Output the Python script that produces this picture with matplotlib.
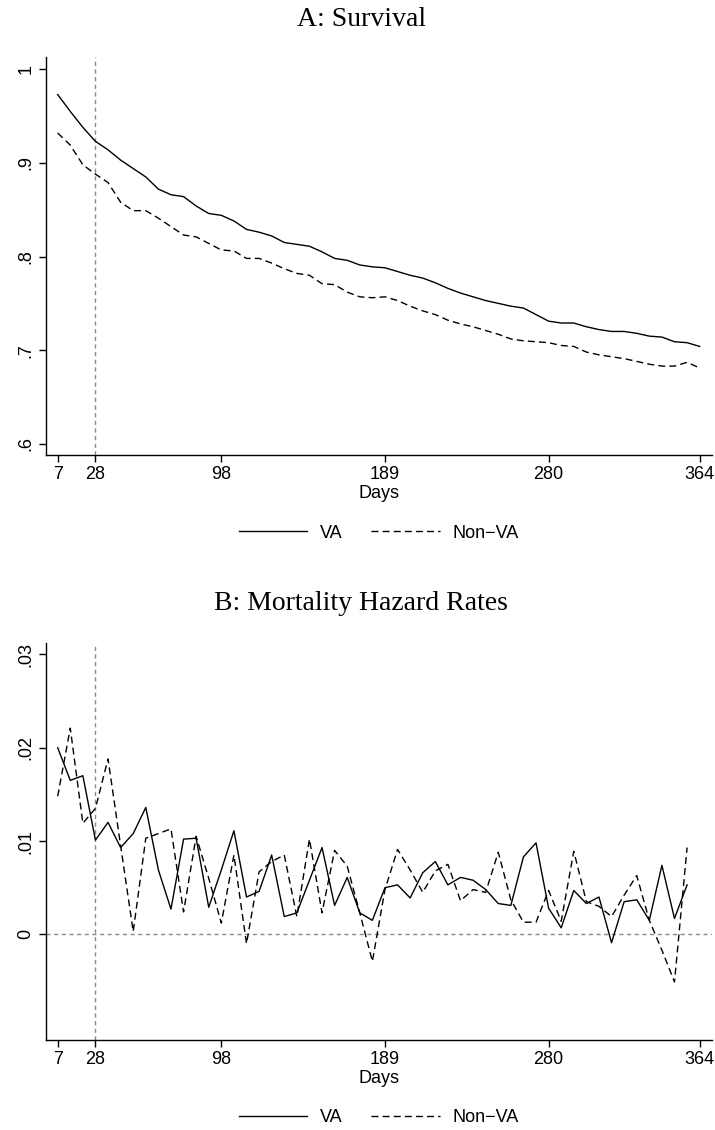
import numpy as np
import matplotlib
matplotlib.use("Agg")
from matplotlib import pyplot as plt

# weeks since admission (days)
days = [7, 14, 21, 28, 35, 42, 49, 56, 63, 70, 77, 84, 91, 98, 105, 112, 119, 126,
        133, 140, 147, 154, 161, 168, 175, 182, 189, 196, 203, 210, 217, 224, 231,
        238, 245, 252, 259, 266, 273, 280, 287, 294, 301, 308, 315, 322, 329, 336,
        343, 350, 357, 364]

# Panel A: survival
surv_va = [0.973, 0.955, 0.938, 0.923, 0.914, 0.903, 0.894, 0.885, 0.872, 0.866,
           0.864, 0.854, 0.846, 0.844, 0.838, 0.829, 0.826, 0.822, 0.815, 0.813,
           0.811, 0.805, 0.798, 0.796, 0.791, 0.789, 0.788, 0.784, 0.780, 0.777,
           0.772, 0.766, 0.761, 0.757, 0.753, 0.750, 0.747, 0.745, 0.738, 0.731,
           0.729, 0.729, 0.725, 0.722, 0.720, 0.720, 0.718, 0.715, 0.714, 0.709,
           0.708, 0.704]
surv_nonva = [0.932, 0.919, 0.898, 0.888, 0.879, 0.858, 0.849, 0.849, 0.841, 0.832,
              0.823, 0.821, 0.814, 0.807, 0.806, 0.798, 0.798, 0.793, 0.787, 0.782,
              0.780, 0.771, 0.770, 0.762, 0.757, 0.756, 0.757, 0.753, 0.747, 0.742,
              0.738, 0.732, 0.728, 0.725, 0.721, 0.717, 0.712, 0.710, 0.709, 0.708,
              0.705, 0.704, 0.698, 0.695, 0.693, 0.691, 0.688, 0.685, 0.683, 0.683,
              0.687, 0.681]

# Panel B: weekly mortality hazard (days 7..357)
haz_va = [0.0200, 0.0165, 0.0170, 0.0101, 0.0120, 0.0093, 0.0108, 0.0136, 0.0069,
          0.0027, 0.0102, 0.0103, 0.0029, 0.0069, 0.0111, 0.0040, 0.0046, 0.0085,
          0.0019, 0.0023, 0.0058, 0.0093, 0.0031, 0.0061, 0.0023, 0.0015, 0.0050,
          0.0053, 0.0039, 0.0066, 0.0078, 0.0053, 0.0061, 0.0058, 0.0048, 0.0033,
          0.0031, 0.0083, 0.0098, 0.0028, 0.0007, 0.0047, 0.0033, 0.0040, -0.0009,
          0.0035, 0.0037, 0.0015, 0.0074, 0.0017, 0.0053]
haz_nonva = [0.0148, 0.0221, 0.0119, 0.0135, 0.0188, 0.0095, 0.0003, 0.0103, 0.0108,
             0.0113, 0.0024, 0.0105, 0.0060, 0.0012, 0.0085, -0.0010, 0.0067, 0.0078,
             0.0085, 0.0019, 0.0102, 0.0023, 0.0090, 0.0073, 0.0023, -0.0029, 0.0048,
             0.0091, 0.0069, 0.0045, 0.0068, 0.0075, 0.0036, 0.0048, 0.0045, 0.0088,
             0.0037, 0.0013, 0.0013, 0.0047, 0.0014, 0.0089, 0.0035, 0.0030, 0.0019,
             0.0042, 0.0063, 0.0015, -0.0017, -0.0051, 0.0093]

xticks = [7, 28, 98, 189, 280, 364]
yticks_a = [0.6, 0.7, 0.8, 0.9, 1.0]
ylabels_a = [".6", ".7", ".8", ".9", "1"]
yticks_b = [0, 0.01, 0.02, 0.03]
ylabels_b = ["0", ".01", ".02", ".03"]

plt.rcParams['font.family'] = ['Liberation Sans', 'DejaVu Sans']

fig = plt.figure(figsize=(7.15, 11.30), dpi=100)
ax1 = fig.add_axes([0.0639, 0.5973, 0.9315, 0.3525])
ax2 = fig.add_axes([0.0639, 0.0796, 0.9315, 0.3516])

dash = (0, (5, 3))
ref = dict(color="#8a8a8a", lw=1.0, ls=(0, (3, 2.5)), zorder=1)


def style(ax, yticks, ylabels, ylim):
    for s in ["top", "right"]:
        ax.spines[s].set_visible(False)
    for s in ["left", "bottom"]:
        ax.spines[s].set_linewidth(1.0)
    ax.set_xlim(0.33, 370.7)
    ax.set_ylim(*ylim)
    ax.set_xticks(xticks)
    ax.set_xticklabels([str(t) for t in xticks], fontsize=13)
    ax.set_yticks(yticks)
    ax.set_yticklabels(ylabels, fontsize=13, rotation=90, va="center")
    ax.tick_params(length=5, width=1.0, pad=3)
    ax.set_xlabel("Days", fontsize=13, labelpad=1)
    ax.legend(loc="center", bbox_to_anchor=(0.5, -0.196), ncol=2, frameon=False,
              fontsize=13, handlelength=3.8, handletextpad=0.7, columnspacing=1.6)


ax1.axvline(28, **ref)
ax1.plot(days, surv_va, color="black", lw=1.0, label="VA")
ax1.plot(days, surv_nonva, color="black", lw=1.0, ls=dash, label="Non\u2212VA")
style(ax1, yticks_a, ylabels_a, (0.588, 1.0134))

ax2.axvline(28, **ref)
ax2.axhline(0, **ref)
ax2.plot(days[:len(haz_va)], haz_va, color="black", lw=1.0, label="VA")
ax2.plot(days[:len(haz_nonva)], haz_nonva, color="black", lw=1.0, ls=dash, label="Non\u2212VA")
style(ax2, yticks_b, ylabels_b, (-0.01133, 0.03125))

fig.text(0.505, 1 - 20 / 1130, "A: Survival", ha="center", va="center",
         fontsize=20, family=["Liberation Serif", "DejaVu Serif"])
fig.text(0.505, 1 - 603 / 1130, "B: Mortality Hazard Rates", ha="center", va="center",
         fontsize=20, family=["Liberation Serif", "DejaVu Serif"])

fig.savefig("out.png", dpi=100)
